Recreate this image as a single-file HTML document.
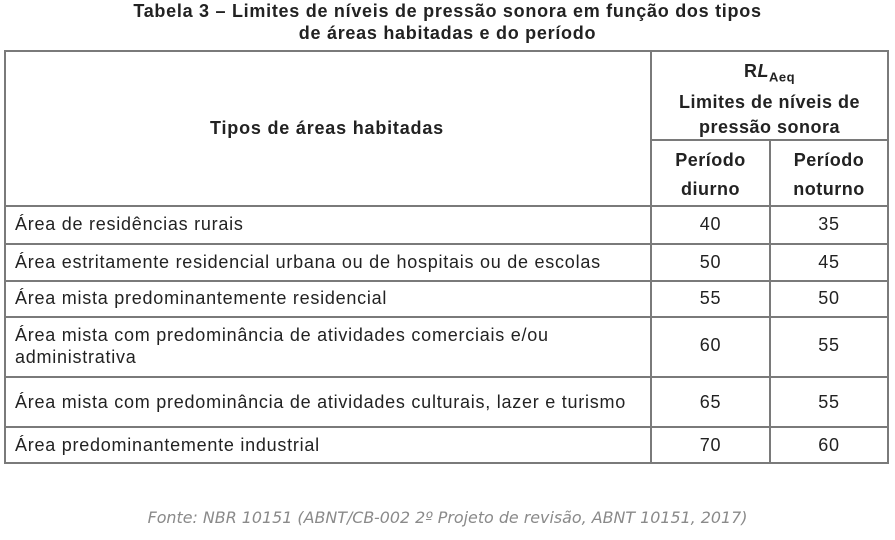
<!DOCTYPE html>
<html><head><meta charset="utf-8"><style>
body{margin:0;width:895px;height:540px;background:#fff;position:relative;overflow:hidden;font-family:"Liberation Sans",Arial,sans-serif;color:#222}
.a{position:absolute;white-space:nowrap}
.h{position:absolute;background:#7a7a7a;height:2px}
.v{position:absolute;background:#7a7a7a;width:2px}
.t{font-size:18px;letter-spacing:0.75px}
.c{text-align:center}
.b{font-weight:bold}
</style></head><body>
<div class="a b c" style="left:0;width:895px;top:0px;font-size:18px;letter-spacing:0.72px;line-height:22px">Tabela 3 – Limites de níveis de pressão sonora em função dos tipos<br>de áreas habitadas e do período</div>

<div class="h" style="left:4px;width:885px;top:50px"></div>
<div class="h" style="left:650px;width:239px;top:139px"></div>
<div class="h" style="left:4px;width:885px;top:205px"></div>
<div class="h" style="left:4px;width:885px;top:243px"></div>
<div class="h" style="left:4px;width:885px;top:280px"></div>
<div class="h" style="left:4px;width:885px;top:316px"></div>
<div class="h" style="left:4px;width:885px;top:376px"></div>
<div class="h" style="left:4px;width:885px;top:426px"></div>
<div class="h" style="left:4px;width:885px;top:462px"></div>
<div class="v" style="left:4px;top:50px;height:414px"></div>
<div class="v" style="left:650px;top:50px;height:414px"></div>
<div class="v" style="left:769px;top:139px;height:325px"></div>
<div class="v" style="left:887px;top:50px;height:414px"></div>

<div class="a b t" style="left:210px;top:118px;letter-spacing:0.8px">Tipos de áreas habitadas</div>
<div class="a b c t" style="left:652px;width:235px;top:59px;line-height:25px;letter-spacing:0.5px">R<i>L</i><sub style="font-size:13px">Aeq</sub><br>Limites de níveis de<br>pressão sonora</div>
<div class="a b c t" style="left:652px;width:117px;top:146px;line-height:29px;letter-spacing:0.5px">Período<br>diurno</div>
<div class="a b c t" style="left:771px;width:116px;top:146px;line-height:29px;letter-spacing:0.5px">Período<br>noturno</div>

<div class="a t" style="left:15px;top:214px">Área de residências rurais</div>
<div class="a t" style="left:15px;top:252px">Área estritamente residencial urbana ou de hospitais ou de escolas</div>
<div class="a t" style="left:15px;top:288px">Área mista predominantemente residencial</div>
<div class="a t" style="left:15px;top:324px;line-height:22px">Área mista com predominância de atividades comerciais e/ou<br>administrativa</div>
<div class="a t" style="left:15px;top:392px">Área mista com predominância de atividades culturais, lazer e turismo</div>
<div class="a t" style="left:15px;top:435px">Área predominantemente industrial</div>

<div class="a c t" style="left:652px;width:117px;top:214px">40</div>
<div class="a c t" style="left:771px;width:116px;top:214px">35</div>
<div class="a c t" style="left:652px;width:117px;top:252px">50</div>
<div class="a c t" style="left:771px;width:116px;top:252px">45</div>
<div class="a c t" style="left:652px;width:117px;top:288px">55</div>
<div class="a c t" style="left:771px;width:116px;top:288px">50</div>
<div class="a c t" style="left:652px;width:117px;top:335px">60</div>
<div class="a c t" style="left:771px;width:116px;top:335px">55</div>
<div class="a c t" style="left:652px;width:117px;top:392px">65</div>
<div class="a c t" style="left:771px;width:116px;top:392px">55</div>
<div class="a c t" style="left:652px;width:117px;top:435px">70</div>
<div class="a c t" style="left:771px;width:116px;top:435px">60</div>

<div class="a c" style="left:0;width:895px;top:508px;font-style:italic;color:#8a8a8a;font-family:'DejaVu Sans','Liberation Sans',sans-serif;font-size:15.9px">Fonte: NBR 10151 (ABNT/CB-002 2º Projeto de revisão, ABNT 10151, 2017)</div>
</body></html>
